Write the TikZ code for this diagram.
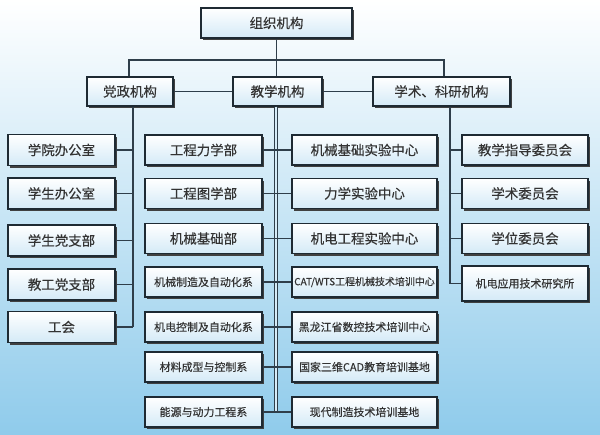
\documentclass[tikz,border=0pt]{standalone}
\usepackage{fontspec}
\setmainfont{Noto Sans CJK SC}[FakeBold=0.35]
\usetikzlibrary{shadows}
\definecolor{boxline}{HTML}{1E2A33}
\definecolor{boxfill}{HTML}{D4EAF7}
\definecolor{conn}{HTML}{2F3E4A}
\definecolor{txt}{HTML}{333333}
\definecolor{bgbot}{HTML}{8FCBEB}
\definecolor{bgmid}{HTML}{D6ECF8}
\begin{document}
\begin{tikzpicture}[x=1bp,y=-1bp,
  orgbox/.style={draw=boxline, line width=1.1bp, top color=white, bottom color=boxfill,
    general shadow={fill=black!75, shadow xshift=2.4bp, shadow yshift=-2.4bp},
    inner sep=0pt, text=txt, font=\fontsize{13.5}{14}\selectfont},
  smalltxt/.style={font=\fontsize{11}{12}\selectfont},
  tinytxt/.style={font=\fontsize{10}{11}\selectfont},
  link/.style={draw=conn, line width=1.6bp},
  lv1/.style={orgbox, minimum height=30bp},
  colL/.style={orgbox, minimum width=107bp, minimum height=31bp},
  colM/.style={orgbox, minimum width=117bp, minimum height=30bp},
  colN/.style={orgbox, minimum width=145bp, minimum height=30bp},
  colR/.style={orgbox, minimum width=126bp, minimum height=30bp}]
\useasboundingbox (0,0) rectangle (600,435);
\fill[top color=white, middle color=bgmid, bottom color=bgbot] (0,0) rectangle (600,435);

% level 0 and 1
\node[lv1, minimum width=151bp] (top) at (276.5,23) {组织机构};
\node[lv1, minimum width=86bp, minimum height=29bp] (dz) at (130,91.5) {党政机构};
\node[lv1, minimum width=89bp, minimum height=29bp] (jx) at (277.5,91.5) {教学机构};
\node[lv1, minimum width=137bp, minimum height=29bp] (xs) at (441.5,91.5) {学术、科研机构};

% left column
\node[colL] (l1) at (61.5,150) {学院办公室};
\node[colL] (l2) at (61.5,193.5) {学生办公室};
\node[colL] (l3) at (61.5,240.5) {学生党支部};
\node[colL] (l4) at (61.5,284.5) {教工党支部};
\node[colL] (l5) at (61.5,327) {工会};

% middle column
\node[colM] (m1) at (203.5,150) {工程力学部};
\node[colM] (m2) at (203.5,193.5) {工程图学部};
\node[colM] (m3) at (203.5,238.5) {机械基础部};
\node[colM, smalltxt] (m4) at (203.5,282) {机械制造及自动化系};
\node[colM, smalltxt] (m5) at (203.5,327) {机电控制及自动化系};
\node[colM, smalltxt] (m6) at (203.5,367) {材料成型与控制系};
\node[colM, smalltxt] (m7) at (203.5,412) {能源与动力工程系};

% right-middle column
\node[colN] (n1) at (364.5,150) {机械基础实验中心};
\node[colN] (n2) at (364.5,193.5) {力学实验中心};
\node[colN] (n3) at (364.5,238.5) {机电工程实验中心};
\node[colN, tinytxt] (n4) at (364.5,282) {CAT/WTS工程机械技术培训中心};
\node[colN, smalltxt] (n5) at (364.5,327) {黑龙江省数控技术培训中心};
\node[colN, smalltxt] (n6) at (364.5,367) {国家三维CAD教育培训基地};
\node[colN, smalltxt] (n7) at (364.5,412) {现代制造技术培训基地};

% right column
\node[colR] (r1) at (525,150) {教学指导委员会};
\node[colR] (r2) at (525,193.5) {学术委员会};
\node[colR] (r3) at (525,238.5) {学位委员会};
\node[colR, smalltxt, minimum height=35bp] (r4) at (525,283.5) {机电应用技术研究所};

% connectors level 0-1
\coordinate (hl) at (129,60);
\coordinate (hr) at (444,60);
\draw[link] (top.south) -- (top.south |- jx.north);
\draw[link] (dz.north -| hl) |- (hr) -- (xs.north -| hr);
\draw[link] (dz.east) -- (jx.west);
\draw[link] (jx.east) -- (xs.west);

% left branch
\coordinate (lv) at (133,0);
\draw[link] (dz.south -| lv) -- (l5.east -| lv);
\foreach \i in {1,...,5} \draw[link] (l\i.east) -- (l\i.east -| lv);

% middle branch
\coordinate (mv) at (276,0);
\draw[draw=conn, line width=1.3bp, double=bgmid, double distance=2.3bp] (jx.south -| mv) -- (m7.east -| mv);
\foreach \i in {1,...,7} \draw[link] (m\i.east) -- (n\i.west);

% right branch
\coordinate (rv) at (450,0);
\draw[link] (xs.south -| rv) -- (r4.west -| rv);
\foreach \i in {1,...,4} \draw[link] (r\i.west) -- (r\i.west -| rv);
\end{tikzpicture}
\end{document}
